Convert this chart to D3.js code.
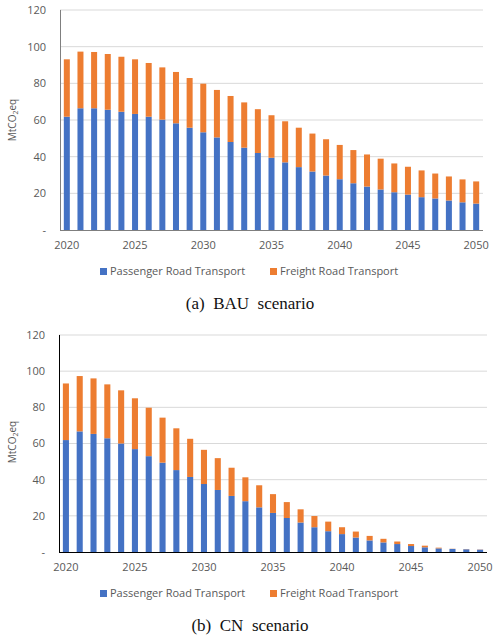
<!DOCTYPE html>
<html><head><meta charset="utf-8">
<script src="https://cdn.jsdelivr.net/npm/d3@7"></script>
<style>
body{margin:0;background:#fff;}
svg{display:block;}
text{font-family:"Open Sans",sans-serif;}
text.cap{font-family:"Liberation Serif","DejaVu Serif",serif;white-space:pre;}
</style></head>
<body><svg id="c" width="498" height="641"></svg>
<script>
const years = d3.range(2020, 2051);
const yTicks = [0, 20, 40, 60, 80, 100, 120];
const seriesNames = ["Passenger Road Transport", "Freight Road Transport"];
const colors = ["#4472C4", "#ED7D31"];
// BAU scenario
const bauPassenger = [61.8,66.4,66.4,65.6,64.5,63.3,61.8,60.2,58.2,55.8,53.3,50.5,48.0,44.9,42.0,39.4,36.9,34.3,31.9,29.7,27.7,25.5,23.7,22.1,20.6,19.3,17.9,17.2,16.1,15.1,14.4];
const bauTotal = [93.1,97.3,97.1,96.0,94.5,93.1,91.1,88.7,86.2,82.9,79.8,76.4,73.1,69.6,65.9,62.6,59.3,55.8,52.6,49.5,46.4,43.6,41.2,38.9,36.3,34.5,32.5,30.8,29.2,27.6,26.5];
// CN scenario
const cnPassenger = [61.9,66.7,65.3,62.9,60.0,56.9,53.0,49.4,45.3,41.5,37.6,34.3,31.0,28.1,24.7,21.6,18.8,16.3,13.7,11.5,9.9,8.0,6.4,5.3,4.4,3.3,2.6,2.0,1.7,1.5,1.3];
const cnTotal = [93.2,97.3,96.0,92.7,89.4,85.0,79.8,74.3,68.4,62.6,56.5,51.9,46.6,41.3,36.9,32.0,27.6,23.6,19.9,16.8,13.7,11.3,8.9,7.3,5.8,4.4,3.5,2.4,1.8,1.6,1.4];
const bauFreight = bauTotal.map((t,i)=>+(t-bauPassenger[i]).toFixed(1));
const cnFreight = cnTotal.map((t,i)=>+(t-cnPassenger[i]).toFixed(1));
const captions = ["(a)  BAU  scenario", "(b)  CN  scenario"];

const svg = d3.select("#c");
svg.append("rect").attr("width",498).attr("height",641).attr("fill","#fff");

function panel(cfg){
  const {left,right,y0,y120,passenger,freight,axisColor,xLabelY,legendY,caption,captionY,titleY} = cfg;
  const g = svg.append("g");
  const x = d3.scaleBand().domain(years).range([left,right]).paddingInner(0.56).paddingOuter(0.28);
  const y = d3.scaleLinear().domain([0,120]).range([y0,y120]);
  // gridlines
  g.append("g").selectAll("line").data(yTicks.filter(d=>d>0)).join("line")
    .attr("x1",left).attr("x2",right).attr("y1",d=>y(d)).attr("y2",d=>y(d))
    .attr("stroke","#d9d9d9").attr("stroke-width",1);
  // y tick labels
  g.append("g").selectAll("text").data(yTicks).join("text")
    .attr("x",left-14).attr("y",d=>y(d)).attr("dy","0.35em").attr("text-anchor","end")
    .attr("font-size",11).attr("fill","#595959").text(d=>d===0?"-":d);
  // stacked bars
  const rows = years.map((yr,i)=>({year:yr,p:passenger[i],f:freight[i]}));
  const stack = d3.stack().keys(["p","f"])(rows);
  stack.forEach((s,k)=>{
    g.append("g").attr("fill",colors[k]).selectAll("rect").data(s).join("rect")
      .attr("x",d=>x(d.data.year)).attr("width",x.bandwidth())
      .attr("y",d=>y(d[1])).attr("height",d=>Math.max(0,y(d[0])-y(d[1])));
  });
  // axes lines
  g.append("line").attr("x1",left+0.5).attr("x2",left+0.5).attr("y1",y120).attr("y2",y0)
    .attr("stroke",axisColor).attr("stroke-width",1);
  g.append("line").attr("x1",left).attr("x2",right).attr("y1",y0+0.5).attr("y2",y0+0.5)
    .attr("stroke",axisColor).attr("stroke-width",1);
  // x labels
  g.append("g").selectAll("text").data(years.filter(d=>d%5===0)).join("text")
    .attr("x",d=>x(d)+x.bandwidth()/2).attr("y",xLabelY).attr("text-anchor","middle")
    .attr("font-size",11).attr("fill","#595959").text(d=>d);
  // y title
  const t = g.append("text").attr("transform",`translate(16,${titleY}) rotate(-90)`)
    .attr("text-anchor","middle").attr("font-size",10).attr("fill","#595959");
  t.append("tspan").text("MtCO");
  t.append("tspan").attr("font-size",7).attr("dy",2).text("2");
  t.append("tspan").attr("dy",-2).text("eq");
  // legend
  const lx = [100, 270];
  seriesNames.forEach((n,k)=>{
    g.append("rect").attr("x",lx[k]).attr("y",legendY-7).attr("width",7).attr("height",7).attr("fill",colors[k]);
    g.append("text").attr("x",lx[k]+10).attr("y",legendY).attr("font-size",11).attr("fill","#595959").text(n);
  });
  g.append("text").attr("class","cap").attr("x",250).attr("y",captionY).attr("text-anchor","middle")
    .attr("font-size",17).attr("fill","#111").text(caption);
}

panel({left:60,right:483,y0:230,y120:10,passenger:bauPassenger,freight:bauFreight,axisColor:"#7f7f7f",
  xLabelY:249,legendY:275,caption:captions[0],captionY:309,titleY:120});
panel({left:59,right:487,y0:552,y120:335,passenger:cnPassenger,freight:cnFreight,axisColor:"#000",
  xLabelY:571,legendY:597,caption:captions[1],captionY:631,titleY:442});
</script></body></html>
